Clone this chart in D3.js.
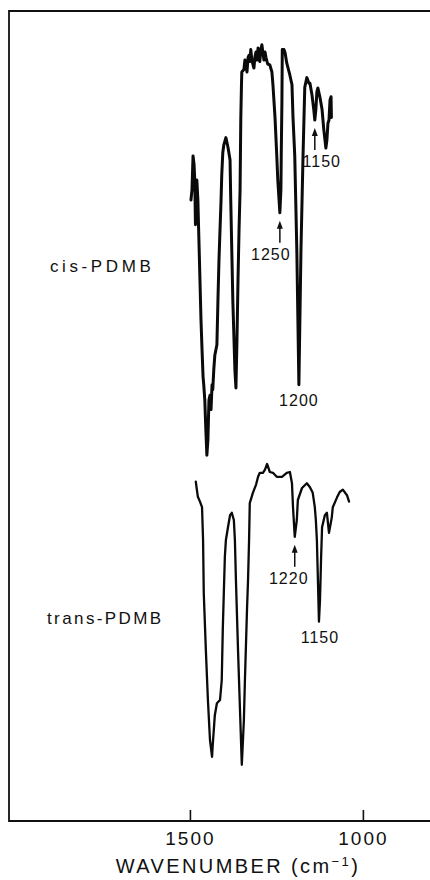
<!DOCTYPE html>
<html>
<head>
<meta charset="utf-8">
<script src="https://cdn.jsdelivr.net/npm/d3@7"></script>
<style>
  html, body { margin: 0; padding: 0; background: #fff; }
  svg { display: block; }
  text { font-family: "Liberation Sans", Arial, sans-serif; fill: #111; }
</style>
</head>
<body>
<svg id="chart" width="430" height="880"></svg>
<script>
// ---- data ----
// cis-PDMB spectrum: wavenumber (cm-1) and relative transmittance (arbitrary, offset stack)
const cisWavenumber = [1497,1494,1491,1488,1486,1484,1483,1480,1477,1474,1471,1468,1465,1462,1460,1457,1454,1451,1448,1445,1442,1439,1436,1434,1431,1428,1422,1419,1416,1413,1410,1408,1405,1402,1396,1390,1384,1382,1376,1370,1367,1364,1361,1358,1355,1353,1351,1350,1344,1341,1335,1332,1329,1327,1324,1321,1315,1312,1309,1306,1303,1301,1298,1295,1292,1289,1286,1283,1280,1277,1275,1269,1263,1260,1254,1249,1246,1240,1237,1236,1234,1233,1228,1225,1220,1211,1205,1202,1197,1191,1185,1179,1173,1168,1162,1156,1153,1147,1142,1139,1136,1133,1130,1124,1118,1113,1107,1104,1101,1098,1095,1092,1091];
const cisTransmittance = [77.5,78.8,83.0,81.9,80.0,74.4,75.6,80.0,77.5,72.5,67.5,62.5,58.8,55.4,54.4,52.5,48.8,45.6,47.5,52.5,53.1,51.3,54.4,53.8,56.3,58.1,59.4,65.0,70.0,73.8,77.5,80.6,83.4,84.4,85.3,84.1,82.5,77.5,65.0,56.3,54.0,60.0,67.5,73.8,78.8,87.5,91.9,93.5,93.8,95.0,93.5,95.3,95.6,94.8,96.3,95.0,94.0,95.4,96.0,95.0,96.5,95.6,94.8,96.3,96.9,95.9,95.0,96.0,95.3,94.8,94.5,94.4,93.5,91.9,87.8,83.1,80.0,75.9,78.8,83.1,90.0,96.3,96.3,95.9,94.6,93.1,91.9,87.8,83.1,71.3,54.4,71.3,83.1,91.6,92.8,92.1,92.1,90.6,88.8,87.5,88.8,91.0,91.5,90.3,88.8,86.3,84.0,85.0,87.1,87.5,90.0,90.4,87.8];

// trans-PDMB spectrum
const transWavenumber = [1483,1480,1477,1471,1465,1462,1460,1454,1448,1442,1436,1434,1428,1422,1413,1408,1405,1402,1399,1396,1390,1384,1379,1373,1370,1367,1361,1355,1350,1344,1341,1335,1332,1329,1327,1318,1309,1303,1298,1289,1283,1277,1269,1260,1249,1234,1220,1211,1205,1202,1197,1191,1188,1176,1162,1153,1145,1139,1136,1133,1130,1127,1124,1121,1118,1110,1104,1098,1090,1087,1075,1067,1058,1046,1040];
const transTransmittance = [42.3,41.3,40.4,39.8,39.1,35.0,28.4,21.3,15.0,10.0,7.9,9.4,13.1,14.6,15.0,17.5,23.8,28.4,32.9,35.0,36.6,38.1,38.4,37.5,35.0,30.0,21.3,13.4,6.9,12.5,17.5,26.3,30.0,35.0,39.6,40.9,41.9,42.9,43.4,43.4,43.8,44.5,43.5,43.4,42.9,42.9,43.4,43.5,42.1,39.1,35.4,37.5,40.0,41.5,42.1,41.6,40.9,39.1,37.5,35.0,30.0,24.8,27.5,32.5,36.6,38.1,38.4,35.9,37.8,39.1,40.3,41.0,41.3,40.6,39.8];

// band annotations
const bandLabels   = ["1250", "1200", "1150", "1220", "1150"];
const bandWavenum  = [1240, 1185, 1139, 1197, 1127];
const bandValue    = [75.9, 54.4, 87.5, 35.4, 24.8];
const bandArrow    = [true, false, true, true, false];

const sampleNames  = ["cis-PDMB", "trans-PDMB"];
const sampleLevel  = [68.5, 24.5];

const xTicks = [1500, 1000];
const xTitle = "WAVENUMBER";

// ---- layout ----
const W = 430, H = 880;
const frame = { left: 9, top: 11, right: 430, bottom: 821 };
const svg = d3.select("#chart");

const x = d3.scaleLinear().domain([2023, 806]).range([frame.left, frame.right]);
const y = d3.scaleLinear().domain([0, 100]).range([820, 20]);

// frame (left, top, bottom lines; open at right edge)
const g = svg.append("g");
g.append("path")
  .attr("d", `M${frame.right},${frame.top}H${frame.left}V${frame.bottom}H${frame.right}`)
  .attr("fill", "none").attr("stroke", "#111").attr("stroke-width", 1.8);

// bottom axis: inward ticks and labels
const axis = d3.axisBottom(x).tickValues(xTicks).tickSize(-11).tickPadding(0).tickFormat(d3.format("d"));
const ax = svg.append("g").attr("transform", `translate(0,${frame.bottom})`).call(axis);
ax.select(".domain").remove();
ax.selectAll(".tick line").attr("stroke", "#111").attr("stroke-width", 1.6);
ax.selectAll(".tick text").remove();
ax.selectAll(".tick").append("text")
  .attr("y", 24).attr("text-anchor", "middle")
  .style("font-size", "19px").style("letter-spacing", "2px")
  .text(d => d);

// axis title
const title = svg.append("text")
  .attr("x", 238).attr("y", 873).attr("text-anchor", "middle")
  .style("font-size", "20px").style("letter-spacing", "2.4px");
title.append("tspan").text(xTitle + " (cm");
title.append("tspan").attr("dy", -7).style("font-size", "13px").text("\u22121");
title.append("tspan").attr("dy", 7).text(")");

// spectra
const line = d3.line().x(d => x(d[0])).y(d => y(d[1])).curve(d3.curveLinear);
const cisData = cisWavenumber.map((w, i) => [w, cisTransmittance[i]]);
const transData = transWavenumber.map((w, i) => [w, transTransmittance[i]]);

svg.append("path").datum(cisData).attr("d", line)
  .attr("fill", "none").attr("stroke", "#0a0a0a").attr("stroke-width", 3)
  .attr("stroke-linejoin", "round").attr("stroke-linecap", "round");
svg.append("path").datum(transData).attr("d", line)
  .attr("fill", "none").attr("stroke", "#0a0a0a").attr("stroke-width", 2.3)
  .attr("stroke-linejoin", "round").attr("stroke-linecap", "round");

// sample names
sampleNames.forEach((name, i) => {
  svg.append("text")
    .attr("x", i === 0 ? 50 : 47).attr("y", y(sampleLevel[i]))
    .style("font-size", "17px").style("letter-spacing", i === 0 ? "3.6px" : "2.4px")
    .text(name);
});

// band annotations
const labelDx = [-9, 0, 7, -6, 1];
bandLabels.forEach((lab, i) => {
  const px = x(bandWavenum[i]);
  const py = y(bandValue[i]);
  if (bandArrow[i]) {
    svg.append("line").attr("x1", px).attr("x2", px)
      .attr("y1", py + 13).attr("y2", py + 30)
      .attr("stroke", "#111").attr("stroke-width", 1.5);
    svg.append("path")
      .attr("d", `M${px},${py + 8}L${px - 3},${py + 16}L${px + 3},${py + 16}Z`)
      .attr("fill", "#111");
    svg.append("text").attr("x", px + labelDx[i]).attr("y", py + 47)
      .attr("text-anchor", "middle").style("font-size", "16px").style("letter-spacing", "1px")
      .text(lab);
  } else {
    svg.append("text").attr("x", px + labelDx[i]).attr("y", py + 21)
      .attr("text-anchor", "middle").style("font-size", "16px").style("letter-spacing", "1px")
      .text(lab);
  }
});
</script>
</body>
</html>
